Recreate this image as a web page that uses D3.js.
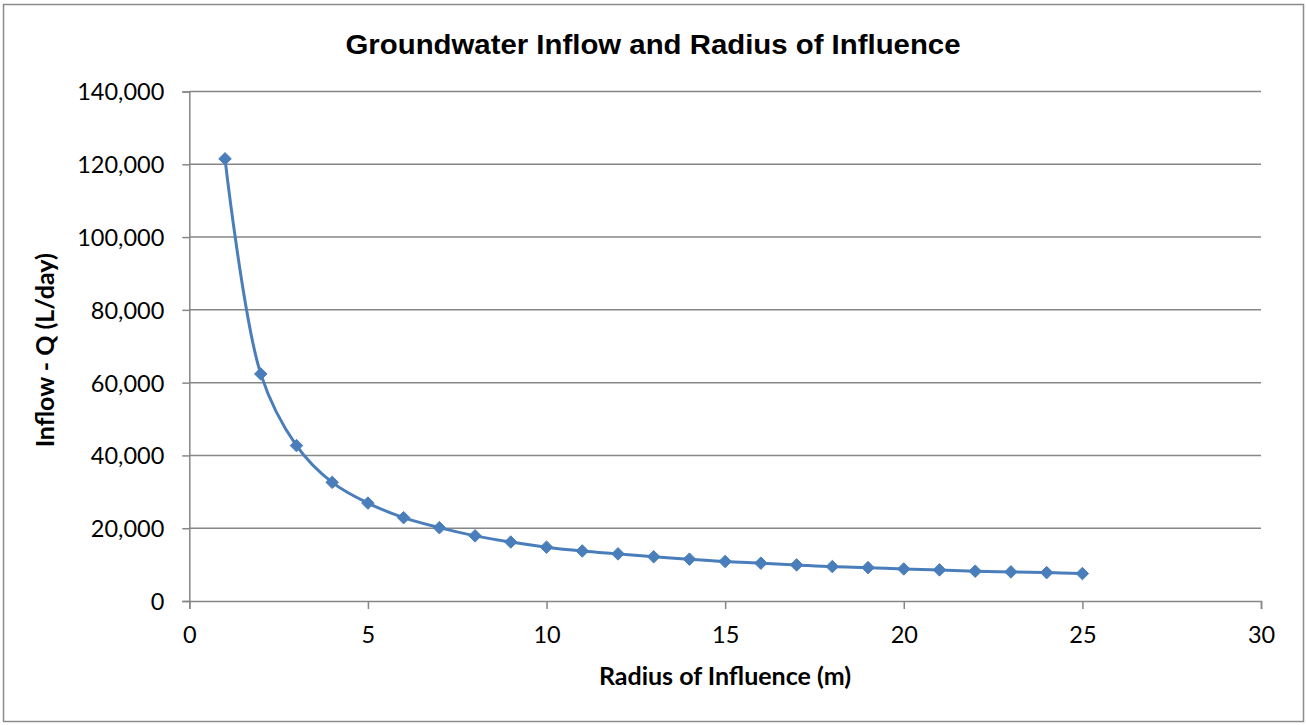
<!DOCTYPE html>
<html>
<head>
<meta charset="utf-8">
<script src="https://cdn.jsdelivr.net/npm/d3@7"></script>
<style>
  body { margin: 0; background: #fff; }
  svg { display: block; }
</style>
</head>
<body>
<svg id="chart"></svg>
<script>
// radius of influence (m)
const radius = [1, 2, 3, 4, 5, 6, 7, 8, 9, 10, 11, 12, 13, 14, 15, 16, 17, 18, 19, 20, 21, 22, 23, 24, 25];
// inflow Q (L/day)
const inflow = [121500, 62400, 42700, 32600, 26900, 22900, 20150, 17900, 16200, 14800,
  13750, 12950, 12150, 11500, 10850, 10400, 9920, 9450, 9170, 8820, 8550, 8200, 8000, 7800, 7530];
const xTicks = [0, 5, 10, 15, 20, 25, 30];
const yTicks = [0, 20000, 40000, 60000, 80000, 100000, 120000, 140000];

const width = 1307, height = 725;
const margin = { top: 91.5, right: 46, bottom: 124, left: 189.3 };
const innerWidth = width - margin.left - margin.right;
const innerHeight = height - margin.top - margin.bottom;

const svg = d3.select("#chart").attr("width", width).attr("height", height);

// chart border
svg.append("rect")
  .attr("x", 3.5).attr("y", 4.5)
  .attr("width", width - 7).attr("height", height - 8)
  .attr("fill", "#fff").attr("stroke", "#8c8c8c").attr("stroke-width", 1.5);

const title = svg.append("text")
  .attr("x", 653).attr("y", 54)
  .attr("text-anchor", "middle")
  .style("font-family", "'Liberation Sans', Arial, sans-serif")
  .style("font-weight", "bold")
  .style("font-size", "27px")
  .text("Groundwater Inflow and Radius of Influence");
// squeeze to the width seen in the reference
title.attr("textLength", 615).attr("lengthAdjust", "spacingAndGlyphs");

const g = svg.append("g").attr("transform", `translate(${margin.left},${margin.top})`);

const x = d3.scaleLinear().domain([0, 30]).range([0, innerWidth]);
const y = d3.scaleLinear().domain([0, 140000]).range([innerHeight, 0]);

// gridlines
g.selectAll(".grid").data(yTicks.slice(1)).join("line")
  .attr("x1", 0).attr("x2", innerWidth)
  .attr("y1", d => y(d)).attr("y2", d => y(d))
  .attr("stroke", "#868686").attr("stroke-width", 1.5);

const tickFont = "Lato, 'Open Sans', sans-serif";

const yAxis = g.append("g")
  .call(d3.axisLeft(y).tickValues(yTicks).tickSize(7).tickPadding(18).tickFormat(d3.format(",")));
const xAxis = g.append("g").attr("transform", `translate(0,${innerHeight})`)
  .call(d3.axisBottom(x).tickValues(xTicks).tickSize(8).tickPadding(17));

[yAxis, xAxis].forEach(a => {
  a.select(".domain").attr("stroke", "#868686").attr("stroke-width", 1.5);
  a.selectAll(".tick line").attr("stroke", "#868686").attr("stroke-width", 1.5);
  a.selectAll(".tick text")
    .attr("fill", "#000")
    .style("font-family", tickFont)
    .style("font-size", "23.5px");
});
yAxis.selectAll(".tick text").attr("dy", "0.36em");

// the curve
const line = d3.line()
  .x((d, i) => x(radius[i]))
  .y(d => y(d))
  .curve(d3.curveCatmullRom.alpha(0.5));

g.append("path")
  .datum(inflow)
  .attr("fill", "none")
  .attr("stroke", "#4a7ebb")
  .attr("stroke-width", 3)
  .attr("d", line);

g.selectAll(".pt").data(inflow).join("path")
  .attr("transform", (d, i) => `translate(${x(radius[i])},${y(d)})`)
  .attr("d", d3.symbol(d3.symbolDiamond2, 100))
  .attr("fill", "#4a7ebb")
  .attr("stroke", "#4a7ebb")
  .attr("stroke-width", 1);

// axis titles
svg.append("text")
  .attr("x", 725).attr("y", 685)
  .attr("text-anchor", "middle")
  .style("font-family", tickFont)
  .style("font-weight", "bold")
  .style("font-size", "25px")
  .text("Radius of Influence (m)");

svg.append("text")
  .attr("transform", `translate(54,${margin.top + innerHeight / 2 + 4}) rotate(-90)`)
  .attr("text-anchor", "middle")
  .style("font-family", tickFont)
  .style("font-weight", "bold")
  .style("font-size", "25px")
  .text("Inflow - Q (L/day)");
</script>
</body>
</html>
